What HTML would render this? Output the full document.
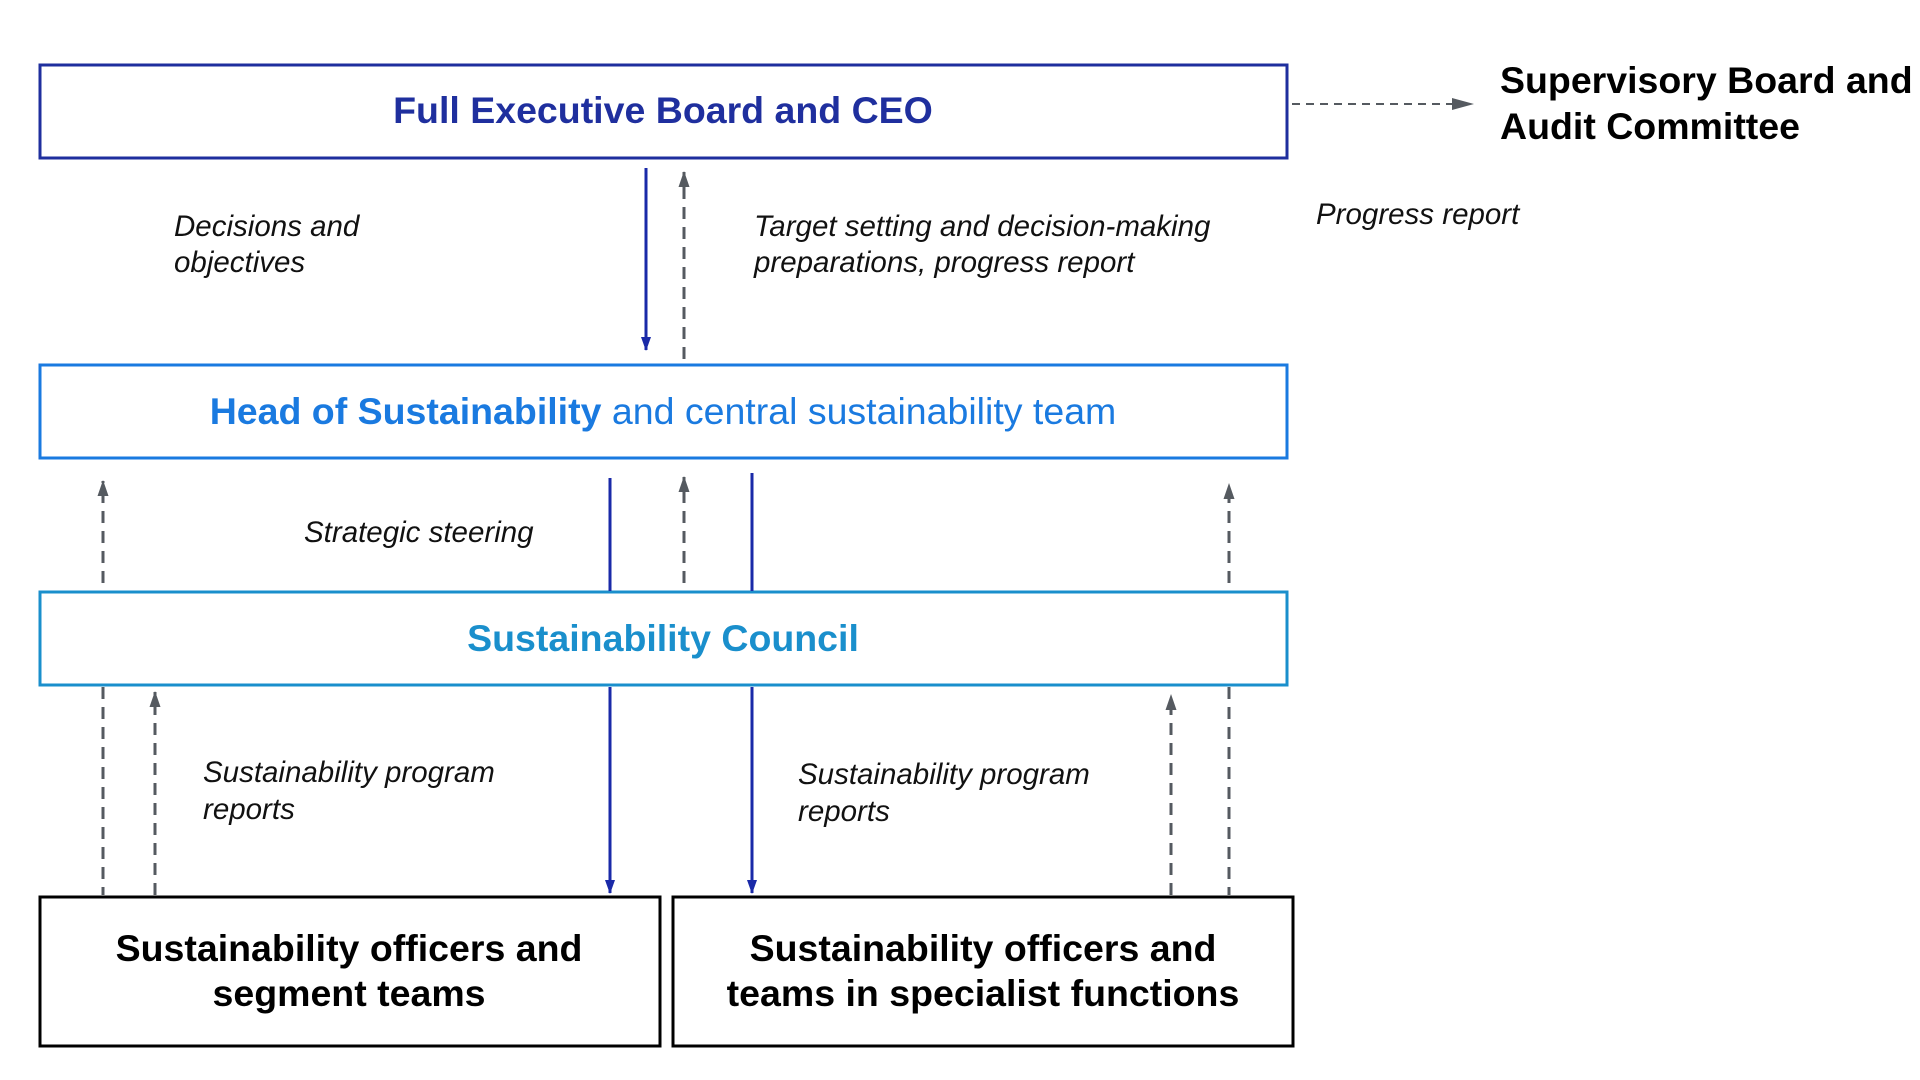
<!DOCTYPE html>
<html><head><meta charset="utf-8"><style>
html,body{margin:0;padding:0;background:#fff;}
svg{display:block;}
text{font-family:"Liberation Sans","DejaVu Sans",sans-serif;}
.it{font-style:italic;font-size:29.5px;fill:#111;}
.bk{font-weight:bold;font-size:37.5px;fill:#000;}
</style></head><body>
<svg width="1920" height="1080" viewBox="0 0 1920 1080" xmlns="http://www.w3.org/2000/svg">
<defs>
<marker id="ab" markerWidth="14" markerHeight="10" refX="13" refY="5" orient="auto" markerUnits="userSpaceOnUse" viewBox="0 0 14 10"><path d="M0,0 L14,5 L0,10 z" fill="#1a2aa8"/></marker>
<marker id="ag" markerWidth="16" markerHeight="11" refX="15" refY="5.5" orient="auto" markerUnits="userSpaceOnUse" viewBox="0 0 16 11"><path d="M0,0 L16,5.5 L0,11 z" fill="#555a60"/></marker>
<marker id="ar" markerWidth="22" markerHeight="12" refX="21" refY="6" orient="auto" markerUnits="userSpaceOnUse" viewBox="0 0 22 12"><path d="M0,0 L22,6 L0,12 z" fill="#555a60"/></marker>
</defs>
<rect x="40" y="65" width="1247" height="93" fill="none" stroke="#1f2f9e" stroke-width="3"/>
<rect x="40" y="365" width="1247" height="93" fill="none" stroke="#1a7ae0" stroke-width="3"/>
<rect x="40" y="592" width="1247" height="93" fill="none" stroke="#1a8fcc" stroke-width="3"/>
<rect x="40" y="897" width="620" height="149" fill="none" stroke="#000" stroke-width="3"/>
<rect x="673" y="897" width="620" height="149" fill="none" stroke="#000" stroke-width="3"/>
<text x="663" y="123" text-anchor="middle" font-size="37.5" font-weight="bold" fill="#1f2f9e">Full Executive Board and CEO</text>
<text x="663" y="424" text-anchor="middle" font-size="37.5" fill="#1a7ae0"><tspan font-weight="bold">Head of Sustainability</tspan> and central sustainability team</text>
<text x="663" y="651" text-anchor="middle" font-size="37.5" font-weight="bold" fill="#1a8fcc">Sustainability Council</text>
<text class="bk" x="349" y="961" text-anchor="middle">Sustainability officers and</text>
<text class="bk" x="349" y="1006" text-anchor="middle">segment teams</text>
<text class="bk" x="983" y="961" text-anchor="middle">Sustainability officers and</text>
<text class="bk" x="983" y="1006" text-anchor="middle">teams in specialist functions</text>
<text class="bk" x="1500" y="93">Supervisory Board and</text>
<text class="bk" x="1500" y="139">Audit Committee</text>
<text class="it" x="174" y="236">Decisions and</text>
<text class="it" x="174" y="272">objectives</text>
<text class="it" x="754" y="236">Target setting and decision-making</text>
<text class="it" x="754" y="272">preparations, progress report</text>
<text class="it" x="1316" y="224">Progress report</text>
<text class="it" x="304" y="542">Strategic steering</text>
<text class="it" x="203" y="782">Sustainability program</text>
<text class="it" x="203" y="819">reports</text>
<text class="it" x="798" y="784">Sustainability program</text>
<text class="it" x="798" y="821">reports</text>
<g stroke-width="3" fill="none">
<line x1="1292" y1="104" x2="1473" y2="104" stroke="#555a60" stroke-dasharray="8,6" stroke-width="2" marker-end="url(#ar)"/>
<line x1="646" y1="168" x2="646" y2="350" stroke="#1a2aa8" marker-end="url(#ab)"/>
<line x1="684" y1="359" x2="684" y2="172" stroke="#555a60" stroke-dasharray="12,8" marker-end="url(#ag)"/>
<line x1="103" y1="583" x2="103" y2="481" stroke="#555a60" stroke-dasharray="12,8" marker-end="url(#ag)"/>
<line x1="610" y1="478" x2="610" y2="591" stroke="#1a2aa8"/>
<line x1="684" y1="583" x2="684" y2="477" stroke="#555a60" stroke-dasharray="12,8" marker-end="url(#ag)"/>
<line x1="752" y1="473" x2="752" y2="591" stroke="#1a2aa8"/>
<line x1="1229" y1="583" x2="1229" y2="484" stroke="#555a60" stroke-dasharray="12,8" marker-end="url(#ag)"/>
<line x1="103" y1="687" x2="103" y2="895" stroke="#555a60" stroke-dasharray="12,8"/>
<line x1="155" y1="895" x2="155" y2="692" stroke="#555a60" stroke-dasharray="12,8" marker-end="url(#ag)"/>
<line x1="610" y1="687" x2="610" y2="893" stroke="#1a2aa8" marker-end="url(#ab)"/>
<line x1="752" y1="687" x2="752" y2="893" stroke="#1a2aa8" marker-end="url(#ab)"/>
<line x1="1171" y1="895" x2="1171" y2="695" stroke="#555a60" stroke-dasharray="12,8" marker-end="url(#ag)"/>
<line x1="1229" y1="687" x2="1229" y2="895" stroke="#555a60" stroke-dasharray="12,8"/>
</g>
</svg>
</body></html>
